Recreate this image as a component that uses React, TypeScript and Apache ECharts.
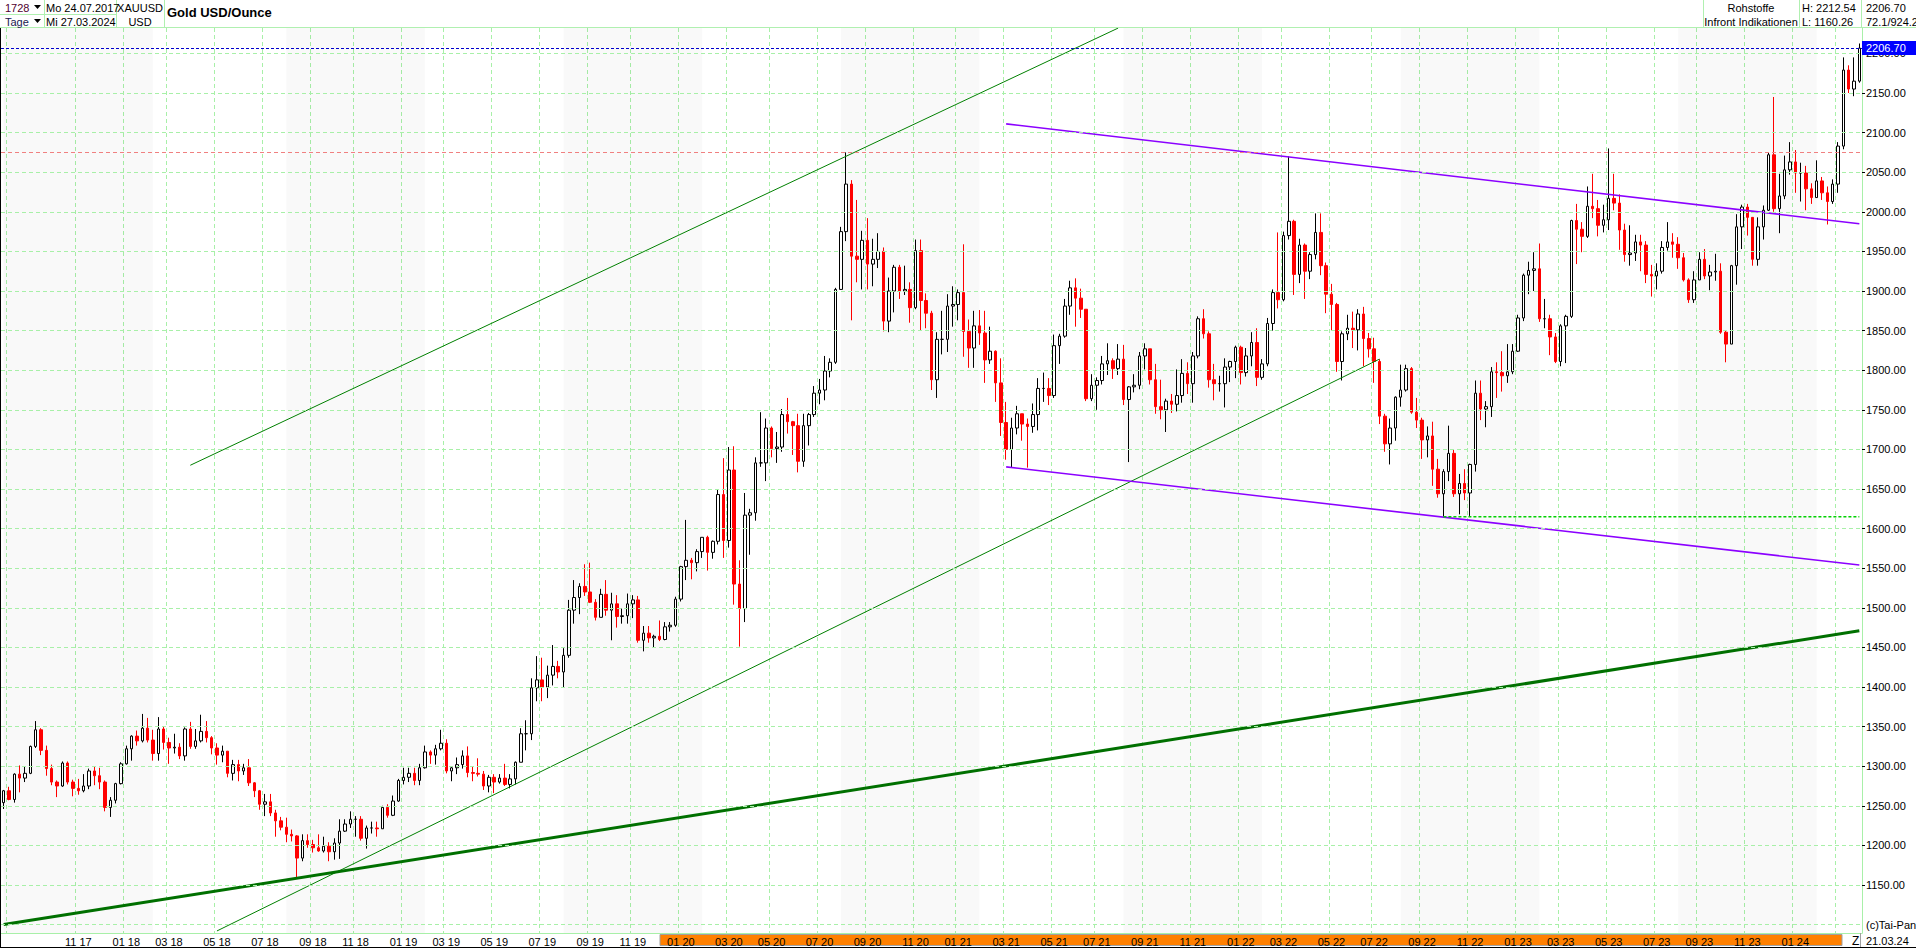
import React, { useEffect, useRef } from "react";
import * as echarts from "echarts";

const FONT = "'Liberation Sans', Arial, sans-serif";
const START = Date.UTC(2017, 6, 24); // Monday of first week
const DAY = 86400000;
const FIRST_OPEN = 1254;

// weekly closes (XAUUSD), week starting Monday 24.07.2017 ... 25.03.2024
const closes = [
  1269, 1258, 1290, 1285, 1291, 1325, 1346, 1320, 1297, 1280,
  1275, 1304, 1280, 1272, 1269, 1275, 1294, 1288, 1280, 1248,
  1257, 1278, 1303, 1322, 1338, 1332, 1348, 1333, 1316, 1347,
  1330, 1323, 1324, 1313, 1347, 1325, 1332, 1344, 1336, 1323,
  1314, 1319, 1291, 1302, 1294, 1298, 1279, 1269, 1252, 1255,
  1241, 1231, 1223, 1214, 1212, 1184, 1206, 1201, 1197, 1193,
  1199, 1192, 1203, 1218, 1227, 1233, 1233, 1209, 1222, 1222,
  1221, 1248, 1238, 1256, 1282, 1286, 1291, 1282, 1298, 1318,
  1314, 1322, 1329, 1294, 1298, 1302, 1313, 1292, 1291, 1290,
  1275, 1286, 1280, 1285, 1277, 1284, 1305, 1341, 1341, 1399,
  1409, 1400, 1415, 1426, 1419, 1440, 1497, 1513, 1527, 1520,
  1507, 1488, 1517, 1497, 1505, 1489, 1490, 1505, 1510, 1459,
  1468, 1462, 1464, 1460, 1476, 1478, 1511, 1552, 1560, 1557,
  1571, 1589, 1570, 1584, 1643, 1585, 1674, 1530, 1499, 1617,
  1620, 1683, 1683, 1727, 1701, 1703, 1744, 1735, 1730, 1685,
  1730, 1744, 1771, 1775, 1799, 1810, 1902, 1975, 2035, 1944,
  1940, 1964, 1934, 1940, 1950, 1862, 1900, 1930, 1900, 1902,
  1879, 1951, 1888, 1872, 1788, 1839, 1839, 1881, 1883, 1898,
  1849, 1828, 1856, 1847, 1813, 1824, 1784, 1734, 1700, 1727,
  1745, 1732, 1729, 1744, 1777, 1777, 1768, 1831, 1843, 1881,
  1904, 1891, 1877, 1764, 1781, 1787, 1808, 1812, 1802, 1814,
  1763, 1779, 1781, 1818, 1827, 1788, 1754, 1750, 1761, 1757,
  1768, 1796, 1783, 1818, 1865, 1846, 1788, 1783, 1783, 1804,
  1811, 1829, 1797, 1818, 1835, 1791, 1808, 1859, 1898, 1889,
  1970, 1988, 1921, 1958, 1925, 1946, 1974, 1932, 1896, 1883,
  1811, 1846, 1853, 1851, 1871, 1840, 1827, 1811, 1742, 1707,
  1727, 1766, 1775, 1802, 1747, 1737, 1712, 1717, 1675, 1644,
  1672, 1695, 1644, 1657, 1645, 1681, 1771, 1751, 1754, 1798,
  1797, 1793, 1798, 1824, 1866, 1920, 1926, 1928, 1865, 1865,
  1842, 1811, 1856, 1868, 1989, 1978, 1969, 2007, 2004, 1983,
  1990, 2017, 2011, 1977, 1946, 1948, 1962, 1958, 1921, 1919,
  1925, 1955, 1962, 1959, 1942, 1914, 1889, 1914, 1940, 1919,
  1924, 1925, 1848, 1833, 1932, 1981, 2006, 1993, 1940, 1981,
  2002, 2072, 2004, 2020, 2053, 2063, 2049, 2049, 2029, 2018,
  2039, 2024, 2013, 2035, 2083, 2179, 2155, 2165, 2206.7,
];

const highs = [
  1270, 1274, 1291, 1301, 1300, 1326, 1357, 1348, 1326, 1302,
  1282, 1306, 1306, 1283, 1284, 1290, 1297, 1299, 1298, 1282,
  1261, 1279, 1305, 1326, 1339, 1345, 1366, 1361, 1346, 1362,
  1350, 1336, 1341, 1329, 1349, 1356, 1347, 1365, 1357, 1338,
  1329, 1326, 1319, 1308, 1308, 1303, 1309, 1280, 1270, 1265,
  1265, 1245, 1236, 1235, 1220, 1213, 1214, 1214, 1207, 1214,
  1211, 1204, 1209, 1233, 1233, 1243, 1237, 1237, 1225, 1230,
  1230, 1250, 1252, 1263, 1284, 1298, 1298, 1298, 1303, 1326,
  1320, 1327, 1346, 1334, 1300, 1311, 1320, 1325, 1299, 1310,
  1294, 1289, 1290, 1290, 1303, 1290, 1306, 1348, 1358, 1411,
  1439, 1437, 1427, 1453, 1433, 1449, 1510, 1535, 1531, 1555,
  1557, 1511, 1524, 1535, 1519, 1516, 1499, 1518, 1516, 1515,
  1477, 1477, 1466, 1484, 1482, 1482, 1514, 1553, 1611, 1563,
  1574, 1589, 1591, 1585, 1649, 1689, 1703, 1704, 1560, 1645,
  1625, 1690, 1747, 1739, 1729, 1722, 1751, 1765, 1736, 1745,
  1745, 1746, 1780, 1789, 1818, 1815, 1904, 1981, 2075, 2040,
  2015, 1976, 1992, 1966, 1973, 1955, 1917, 1933, 1933, 1932,
  1911, 1965, 1965, 1897, 1875, 1848, 1875, 1896, 1906, 1902,
  1959, 1864, 1875, 1876, 1875, 1855, 1825, 1815, 1760, 1740,
  1755, 1745, 1739, 1758, 1790, 1797, 1790, 1845, 1846, 1890,
  1913, 1916, 1903, 1877, 1795, 1791, 1818, 1834, 1815, 1833,
  1832, 1780, 1795, 1823, 1834, 1827, 1808, 1788, 1764, 1770,
  1801, 1814, 1810, 1823, 1868, 1877, 1849, 1808, 1793, 1815,
  1812, 1831, 1831, 1828, 1848, 1853, 1814, 1866, 1902, 1974,
  1975, 2070, 1990, 1966, 1960, 1949, 1998, 1998, 1936, 1909,
  1885, 1849, 1870, 1874, 1877, 1880, 1847, 1841, 1814, 1745,
  1739, 1767, 1807, 1807, 1804, 1765, 1740, 1729, 1735, 1688,
  1675, 1730, 1700, 1669, 1675, 1682, 1787, 1787, 1761, 1804,
  1810, 1824, 1833, 1833, 1870, 1922, 1937, 1949, 1960, 1890,
  1870, 1847, 1858, 1870, 1990, 2010, 1987, 2032, 2048, 2015,
  2009, 2080, 2048, 2022, 1985, 1983, 1971, 1971, 1963, 1933,
  1935, 1963, 1987, 1973, 1968, 1948, 1916, 1925, 1949, 1953,
  1933, 1947, 1935, 1850, 1933, 1997, 2009, 2010, 1993, 1993,
  2008, 2075, 2145, 2048, 2071, 2088, 2078, 2062, 2058, 2036,
  2065, 2044, 2032, 2041, 2088, 2195, 2185, 2195, 2212.54,
];

const lows = [
  1246, 1257, 1254, 1267, 1280, 1290, 1323, 1314, 1288, 1276,
  1261, 1274, 1277, 1262, 1264, 1267, 1271, 1276, 1271, 1243,
  1236, 1253, 1277, 1302, 1307, 1326, 1330, 1330, 1307, 1307,
  1321, 1303, 1316, 1309, 1307, 1322, 1322, 1330, 1330, 1315,
  1302, 1305, 1286, 1282, 1281, 1289, 1275, 1261, 1245, 1237,
  1237, 1211, 1219, 1204, 1205, 1160, 1180, 1197, 1191, 1192,
  1191, 1180, 1182, 1183, 1217, 1222, 1211, 1206, 1196, 1215,
  1211, 1221, 1235, 1237, 1255, 1277, 1280, 1276, 1276, 1297,
  1303, 1302, 1320, 1291, 1281, 1290, 1297, 1286, 1281, 1287,
  1270, 1267, 1266, 1278, 1275, 1272, 1277, 1305, 1320, 1333,
  1382, 1382, 1386, 1402, 1411, 1400, 1437, 1480, 1492, 1515,
  1506, 1484, 1488, 1490, 1459, 1475, 1480, 1480, 1487, 1456,
  1445, 1456, 1450, 1458, 1459, 1470, 1476, 1508, 1535, 1536,
  1546, 1563, 1547, 1562, 1580, 1563, 1576, 1504, 1451, 1482,
  1567, 1610, 1678, 1660, 1690, 1683, 1697, 1720, 1693, 1671,
  1678, 1705, 1741, 1757, 1762, 1791, 1808, 1902, 1963, 1863,
  1911, 1902, 1902, 1906, 1929, 1849, 1848, 1873, 1890, 1895,
  1860, 1877, 1850, 1853, 1775, 1765, 1820, 1823, 1855, 1863,
  1817, 1803, 1803, 1832, 1784, 1808, 1760, 1717, 1687, 1677,
  1719, 1711, 1677, 1721, 1724, 1760, 1756, 1765, 1808, 1841,
  1870, 1855, 1866, 1761, 1761, 1750, 1782, 1794, 1789, 1794,
  1756, 1684, 1772, 1776, 1801, 1782, 1745, 1738, 1722, 1746,
  1748, 1759, 1770, 1759, 1815, 1840, 1778, 1762, 1773, 1753,
  1785, 1790, 1782, 1792, 1805, 1780, 1788, 1805, 1850, 1878,
  1887, 1965, 1895, 1910, 1890, 1915, 1940, 1920, 1872, 1850,
  1798, 1787, 1838, 1828, 1825, 1805, 1816, 1784, 1732, 1697,
  1681, 1711, 1754, 1773, 1745, 1727, 1688, 1690, 1654, 1639,
  1615, 1660, 1640, 1618, 1636, 1616, 1672, 1737, 1728, 1741,
  1765, 1773, 1784, 1795, 1823, 1862, 1896, 1900, 1861, 1853,
  1819, 1809, 1805, 1809, 1866, 1934, 1949, 1967, 1992, 1969,
  1974, 1977, 2002, 1952, 1937, 1932, 1938, 1925, 1910, 1893,
  1902, 1922, 1951, 1942, 1928, 1912, 1885, 1885, 1914, 1915,
  1901, 1913, 1846, 1810, 1833, 1908, 1953, 1970, 1932, 1932,
  1965, 2001, 2000, 1973, 2016, 2047, 2024, 2013, 2002, 2010,
  2018, 2015, 1984, 2010, 2024, 2079, 2150, 2146, 2163,
];

// price axis
const priceTicks = [1150, 1200, 1250, 1300, 1350, 1400, 1450, 1500, 1550, 1600, 1650, 1700, 1750, 1800, 1850, 1900, 1950, 2000, 2050, 2100, 2150, 2200];
const gridPrices = [1100, ...priceTicks];
const Y_MIN = 1089.4;
const Y_MAX = 2232.1;

// reference levels
const LAST_PRICE = 2206.7;
const HIGH_2020 = 2075;

// drawn trend lines: [week index, price]
const channelUpper = [[35, 1680], [209, 2232]];
const channelLower = [[40, 1092], [258, 1814]];
const longSupport = [[0, 1100], [348, 1471]];
const purpleUpper = [[188, 2111], [348, 1985]];
const purpleLower = [[188, 1678], [348, 1554]];
const lowLevel = [[270, 1615], [348, 1615]];

// alternating shaded blocks (week index ranges)
const bands = [[0, 28], [53, 79], [105, 131], [157, 183], [210, 236], [262, 288], [314, 340]];

// first / last labelled month on the time axis
const FIRST_LABEL_WEEK = 10; // 11 17
const LAST_LABEL_WEEK = 340; // 01 24

const weekMs = (i: number) => START + i * 7 * DAY;
const categories = closes.map((_, i) => new Date(weekMs(i)).toISOString().slice(0, 10));
const fridayOf = (i: number) => new Date(weekMs(i) + 4 * DAY);
const monthStartIdx: number[] = [];
for (let i = 1; i < closes.length; i++) {
  const f = fridayOf(i);
  const p = fridayOf(i - 1);
  if (f.getUTCMonth() !== p.getUTCMonth() && f.getUTCMonth() % 2 === 0) monthStartIdx.push(i);
}
const labelIdx = new Set<number>(monthStartIdx.filter((i) => i >= FIRST_LABEL_WEEK && i <= LAST_LABEL_WEEK));
const splitIdx = new Set<number>([1, ...monthStartIdx.filter((i) => i >= FIRST_LABEL_WEEK)]);
const ohlc = closes.map((c, i) => [i === 0 ? FIRST_OPEN : closes[i - 1], c, lows[i], highs[i]]);

const GRN = "#a8f0a8";
const HDR = "#b0f0b0";

const txt = (x: number, y: number, s: string, o: any = {}) => ({
  type: "text",
  x,
  y,
  silent: true,
  z: o.z ?? 10,
  style: {
    text: s,
    fill: o.fill || "#000",
    font: o.font || `11px ${FONT}`,
    textAlign: o.align || "left",
    align: o.align || "left",
    textVerticalAlign: "middle",
    verticalAlign: "middle",
  },
});
const vline = (x: number, y1: number, y2: number, c = HDR) => ({
  type: "line", silent: true, z: 10,
  shape: { x1: x, y1, x2: x, y2 },
  style: { stroke: c, lineWidth: 1 },
});
const hline = (y: number, x1: number, x2: number, c = HDR) => ({
  type: "line", silent: true, z: 10,
  shape: { x1, y1: y, x2, y2: y },
  style: { stroke: c, lineWidth: 1 },
});
const tri = (x: number, y: number) => ({
  type: "polygon", silent: true, z: 10,
  shape: { points: [[x, y], [x + 7, y], [x + 3.5, y + 4]] },
  style: { fill: "#000" },
});

const trend = (name: string, data: number[][], color: string, width: number, type: any = "solid") => ({
  name,
  type: "line",
  data,
  z: 4,
  silent: true,
  symbol: "none",
  lineStyle: { color, width, type },
  animation: false,
});

export default function App() {
  const ref = useRef<HTMLDivElement>(null);
  useEffect(() => {
    const chart = echarts.init(ref.current!, null, { renderer: "svg" });
    chart.setOption({
      animation: false,
      backgroundColor: "#ffffff",
      textStyle: { fontFamily: FONT },
      grid: { left: 1, right: 54, top: 28, bottom: 15, containLabel: false, outerBoundsMode: "none" },
      xAxis: {
        type: "category",
        data: categories,
        boundaryGap: true,
        axisLine: { show: true, lineStyle: { color: GRN } },
        axisTick: { show: false },
        axisLabel: {
          interval: (i: number) => labelIdx.has(i),
          formatter: (_v: string, i: number) => {
            const f = fridayOf(i);
            const mm = String(f.getUTCMonth() + 1).padStart(2, "0");
            const yy = String(f.getUTCFullYear() % 100).padStart(2, "0");
            return `${mm} ${yy}`;
          },
          color: "#000",
          fontSize: 11,
          fontFamily: FONT,
          margin: 3,
        },
        splitLine: {
          show: true,
          interval: (i: number) => splitIdx.has(i),
          lineStyle: { color: GRN, type: [4, 3], width: 1 },
        },
      },
      yAxis: {
        type: "value",
        position: "right",
        min: Y_MIN,
        max: Y_MAX,
        axisLine: { show: true, lineStyle: { color: GRN } },
        axisTick: { show: true, customValues: priceTicks, length: 3, lineStyle: { color: "#000" } },
        axisLabel: {
          customValues: priceTicks,
          formatter: (v: number) => v.toFixed(2),
          color: "#000",
          fontSize: 11,
          fontFamily: FONT,
          margin: 4,
        },
        splitLine: { show: false },
      },
      series: [
        {
          name: "bands",
          type: "line",
          data: [],
          z: 1,
          silent: true,
          markArea: {
            silent: true,
            itemStyle: { color: "rgba(0,0,0,0.022)" },
            data: bands.map(([a, b]) => [{ xAxis: a }, { xAxis: b }]),
          },
        },
        {
          name: "grid",
          type: "line",
          data: [],
          z: 1,
          silent: true,
          markLine: {
            silent: true,
            symbol: ["none", "none"],
            label: { show: false },
            lineStyle: { color: GRN, type: [4, 3], width: 1 },
            data: gridPrices.map((v) => ({ yAxis: v })),
          },
        },
        {
          name: "XAUUSD",
          type: "candlestick",
          data: ohlc,
          barWidth: 3,
          z: 3,
          itemStyle: {
            color: "#ffffff",
            color0: "#ff0000",
            borderColor: "#000000",
            borderColor0: "#ff0000",
            borderWidth: 1,
          },
        },
        trend("channelUpper", channelUpper, "#008000", 1),
        trend("channelLower", channelLower, "#008000", 1),
        trend("longSupport", longSupport, "#007000", 3),
        trend("purpleUpper", purpleUpper, "#8b00ff", 1.6),
        trend("purpleLower", purpleLower, "#8b00ff", 1.6),
        trend("lowLevel", lowLevel, "#00d000", 1.5, [3, 2]),
        {
          name: "levels",
          type: "line",
          data: [],
          z: 5,
          silent: true,
          markLine: {
            silent: true,
            symbol: ["none", "none"],
            label: { show: false },
            data: [
              { yAxis: HIGH_2020, lineStyle: { color: "#f08080", type: [4, 3], width: 1 } },
              { yAxis: LAST_PRICE, lineStyle: { color: "#0000cc", type: [3, 2], width: 1 } },
            ],
          },
        },
      ],
    });

    const py = chart.convertToPixel({ yAxisIndex: 0 }, LAST_PRICE) as number;

    chart.setOption({
      graphic: [
        // header
        hline(27.5, 0, 1916),
        hline(14.5, 0, 116),
        vline(44.5, 0, 28),
        vline(116.5, 0, 28),
        vline(164.5, 0, 28),
        vline(1703.5, 0, 28),
        vline(1799.5, 0, 28),
        vline(1861.5, 0, 28),
        txt(5, 7.5, "1728", { fill: "#500030" }),
        tri(34, 5),
        txt(46, 7.5, "Mo 24.07.2017"),
        txt(140, 7.5, "XAUUSD", { align: "center" }),
        txt(5, 21.5, "Tage", { fill: "#202050" }),
        tri(34, 19),
        txt(46, 21.5, "Mi 27.03.2024"),
        txt(140, 21.5, "USD", { align: "center" }),
        txt(167, 12, "Gold USD/Ounce", { font: `bold 13px ${FONT}` }),
        txt(1751, 7.5, "Rohstoffe", { align: "center" }),
        txt(1751, 21.5, "Infront Indikationen", { align: "center" }),
        txt(1802, 7.5, "H: 2212.54"),
        txt(1802, 21.5, "L: 1160.26"),
        txt(1866, 7.5, "2206.70"),
        txt(1866, 21.5, "72.1/924.2"),
        // last price box
        {
          type: "rect", silent: true, z: 20,
          shape: { x: 1862, y: Math.round(py) - 7, width: 54, height: 14 },
          style: { fill: "#0000ff" },
        },
        txt(1866, Math.round(py), "2206.70", { fill: "#ffffff", z: 21 }),
        // footer
        {
          type: "rect", silent: true, z: -1,
          shape: { x: 660, y: 934.5, width: 1182, height: 11 },
          style: { fill: "#ff8000", stroke: "#a0a0a0", lineWidth: 1 },
        },
        txt(1852, 940.5, "Z", { font: `12px ${FONT}` }),
        vline(1860.5, 933, 948, "#a0a0a0"),
        txt(1866, 941, "21.03.24"),
        txt(1866, 925, "(c)Tai-Pan"),
        hline(947.5, 0, 1916, "#000"),
        vline(0.5, 28, 948, "#000"),
      ],
    });

    return () => chart.dispose();
  }, []);
  return (
    <div
      ref={ref}
      style={{ position: "fixed", left: 0, top: 0, width: 1916, height: 948, background: "#fff" }}
    />
  );
}
